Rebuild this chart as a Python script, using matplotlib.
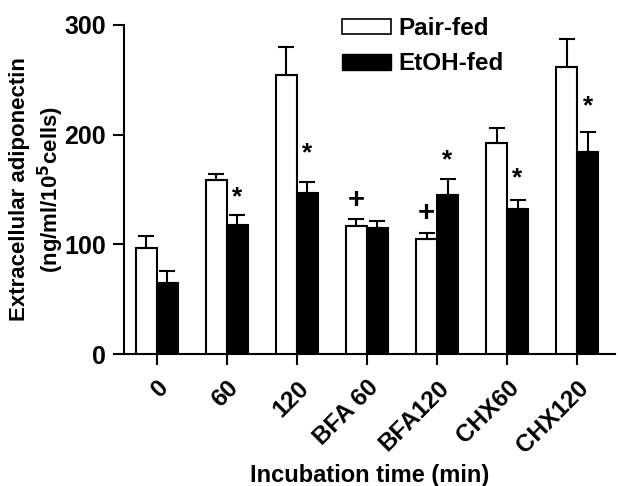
import numpy as np
import matplotlib
matplotlib.use('Agg')
import matplotlib.pyplot as plt
from matplotlib.patches import Patch

plt.rcParams['font.family'] = ['Liberation Sans', 'DejaVu Sans']
plt.rcParams['font.weight'] = 'bold'

# =============================================================================
# DATA
# =============================================================================

groups = ['0', '60', '120', 'BFA 60', 'BFA120', 'CHX60', 'CHX120']
pair_mean = [97, 159, 254, 117, 105, 192, 262]
pair_sem = [11, 5, 26, 6, 5, 14, 25]
etoh_mean = [65, 118, 147, 115, 145, 132, 184]
etoh_sem = [11, 9, 10, 6, 15, 8, 18]

# significance marks: (group index, series, symbol, height)
marks = [
    (1, 'etoh', '*', 143),
    (2, 'etoh', '*', 183),
    (3, 'pair', '+', 140),
    (4, 'pair', '+', 129),
    (4, 'etoh', '*', 177),
    (5, 'etoh', '*', 160),
    (6, 'etoh', '*', 226),
]

# =============================================================================
# PLOT
# =============================================================================

fig = plt.figure(figsize=(6.18, 4.86), dpi=100)
ax = fig.add_axes([0.2006, 0.2716, 0.7944, 0.677])

x = np.arange(len(groups))
w = 0.3
err_kw = dict(ecolor='black', elinewidth=1.5, capsize=5.5, capthick=1.5)

ax.bar(x - w / 2, pair_mean, w, color='white', edgecolor='black', linewidth=1.5,
       yerr=[np.zeros(len(x)), pair_sem], error_kw=err_kw, zorder=3)
ax.bar(x + w / 2, etoh_mean, w, color='black', edgecolor='black', linewidth=1.5,
       yerr=[np.zeros(len(x)), etoh_sem], error_kw=err_kw, zorder=3)

for i, series, sym, h in marks:
    xpos = x[i] - w / 2 if series == 'pair' else x[i] + w / 2
    size = 19 if sym == '*' else 21
    ax.text(xpos, h, sym, ha='center', va='center', fontsize=size,
            fontweight='bold')

ax.set_xlim(-0.47, 6.54)
ax.set_ylim(0, 300)
ax.set_yticks([0, 100, 200, 300])
ax.set_xticks(x)
ax.set_xticklabels(groups, rotation=45, ha='right', rotation_mode='anchor',
                   fontsize=17.5, fontweight='bold')
ax.tick_params(axis='y', labelsize=18, width=1.5, length=8, pad=5)
ax.tick_params(axis='x', width=1.5, length=8, pad=8)
for lab in ax.get_yticklabels():
    lab.set_fontweight('bold')

for side in ('top', 'right'):
    ax.spines[side].set_visible(False)
for side in ('left', 'bottom'):
    ax.spines[side].set_linewidth(1.5)

ax.set_ylabel('Extracellular adiponectin\n(ng/ml/10$^\\mathbf{5}$cells)',
              fontsize=16, fontweight='bold', linespacing=1.25)
ax.yaxis.set_label_coords(-0.118, 0.5)
ax.set_xlabel('Incubation time (min)', fontsize=17, fontweight='bold',
              labelpad=5)

handles = [Patch(facecolor='white', edgecolor='black', linewidth=1.2),
           Patch(facecolor='black', edgecolor='black')]
ax.legend(handles, ['Pair-fed', 'EtOH-fed'], loc='upper left',
          bbox_to_anchor=(0.425, 1.053), frameon=False,
          handlelength=2.0, handleheight=0.6, handletextpad=0.3,
          labelspacing=0.5, borderaxespad=0.0,
          prop={'weight': 'bold', 'size': 17.5})

fig.savefig('out.png', dpi=100)
